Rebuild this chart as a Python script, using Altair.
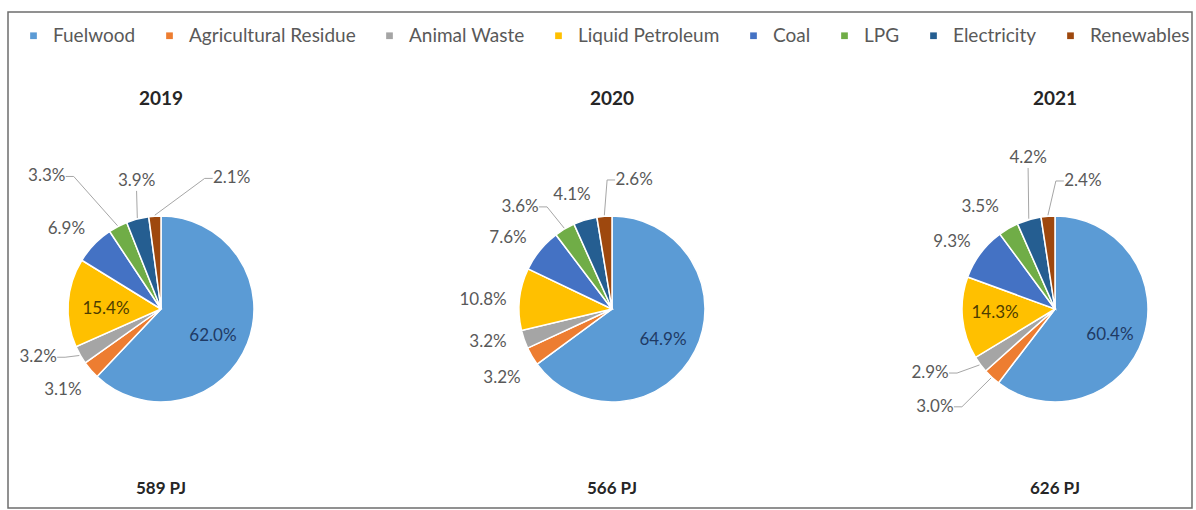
import math
import altair as alt
import pandas as pd

# ---------------- data ----------------
YEARS = ["2019", "2020", "2021"]
TOTALS_PJ = [589, 566, 626]
CATEGORIES = ["Fuelwood", "Agricultural Residue", "Animal Waste", "Liquid Petroleum",
              "Coal", "LPG", "Electricity", "Renewables"]
SHARE_2019 = [62.0, 3.1, 3.2, 15.4, 6.9, 3.3, 3.9, 2.1]
SHARE_2020 = [64.9, 3.2, 3.2, 10.8, 7.6, 3.6, 4.1, 2.6]
SHARE_2021 = [60.4, 3.0, 2.9, 14.3, 9.3, 3.5, 4.2, 2.4]

# ---------------- styling / layout ----------------
COLORS = ["#5B9BD5", "#ED7D31", "#A5A5A5", "#FFC000",
          "#4472C4", "#70AD47", "#255E91", "#9E480E"]
W, H = 1196, 510
CENTERS = [161, 612, 1055]
CY = 309
R = 93
TITLE_Y = 99
TOTAL_Y = 489
FONT = "Lato"
LABEL_GRAY = "#595959"
INSIDE_COLOR = {"Fuelwood": "#1F3A64", "Liquid Petroleum": "#4D3D00"}
HW = 19  # half width of a small label, for leader lines

# label placement per slice: (radius px, angular nudge deg, leader side)
LABEL_2019 = [(58.6, 5.8, ""), (127, 1.6, ""), (132, 8.2, "r"), (55, -3.6, ""),
              (123.6, -4.0, ""), (175, -13.2, "r"), (130.4, 3.8, "b"), (148.5, 32.2, "l")]
LABEL_2020 = [(59.7, 4.5, ""), (129.8, -1.5, ""), (128.3, 4.2, ""), (129.3, -2.1, ""),
              (125.9, -4.9, ""), (137.4, -11.4, "r"), (120.8, -2.6, ""), (130.9, 14.4, "l")]
LABEL_2021 = [(60.8, 6.6, ""), (154.9, 8.0, "r"), (140.4, 9.4, "r"), (60.1, 1.8, ""),
              (122.9, -3.9, ""), (126.6, -6.2, ""), (153.4, 6.1, "b"), (131, 16.6, "l")]

rows = []
for year, shares, labels in zip(YEARS, [SHARE_2019, SHARE_2020, SHARE_2021],
                                [LABEL_2019, LABEL_2020, LABEL_2021]):
    for i, (cat, v, (lr, ln, side)) in enumerate(zip(CATEGORIES, shares, labels)):
        inside = lr < R
        rows.append({"year": year, "category": cat, "order": i, "value": v,
                     "lr": lr, "ln": ln, "side": side,
                     "tcolor": INSIDE_COLOR.get(cat, LABEL_GRAY) if inside else LABEL_GRAY})
df = pd.DataFrame(rows)

cx_expr = " : ".join(f"datum.year === '{y}' ? {c}" for y, c in zip(YEARS[:-1], CENTERS[:-1])) \
          + f" : {CENTERS[-1]}"

color_enc = alt.Color(
    "category:N",
    scale=alt.Scale(domain=CATEGORIES, range=COLORS),
    legend=alt.Legend(
        orient="none", legendX=24, legendY=26, direction="horizontal",
        title=None, symbolType="square", symbolSize=45, symbolStrokeWidth=0,
        labelFontSize=19, labelFont=FONT, labelColor=LABEL_GRAY, labelLimit=400,
        columnPadding=24, labelOffset=10,
    ),
)

# one pie per year, each stacked by the library
pies = []
for year, cx in zip(YEARS, CENTERS):
    pies.append(
        alt.Chart(df)
        .transform_filter(f"datum.year === '{year}'")
        .mark_arc(outerRadius=R, stroke="white", strokeWidth=1.5)
        .encode(
            x=alt.value(cx),
            y=alt.value(CY),
            theta=alt.Theta("value:Q", stack=True),
            order=alt.Order("order:Q", sort="ascending"),
            color=color_enc,
        )
    )

base = (
    alt.Chart(df)
    .transform_joinaggregate(total="sum(value)", groupby=["year"])
    .transform_window(cum="sum(value)", groupby=["year"],
                      sort=[alt.SortField("order")], frame=[None, 0])
    .transform_calculate(
        f1="datum.cum / datum.total",
        f0="(datum.cum - datum.value) / datum.total",
        cx=cx_expr,
        label="format(datum.value, '.1f') + '%'",
    )
    .transform_calculate(mid="(datum.f0 + datum.f1) * PI")
    .transform_calculate(la="datum.mid + datum.ln * PI / 180")
    .transform_calculate(
        lx="datum.cx + datum.lr * sin(datum.la)",
        ly=f"{CY} - datum.lr * cos(datum.la)",
        ex=f"datum.cx + {R + 1} * sin(datum.mid)",
        ey=f"{CY} - {R + 1} * cos(datum.mid)",
    )
    .transform_calculate(
        p0x=f"datum.side === 'r' ? datum.lx + {HW} : datum.side === 'l' ? datum.lx - {HW} : datum.lx",
        p0y="datum.side === 'b' ? datum.ly + 10 : datum.ly",
    )
    .transform_calculate(
        p1x="datum.side === 'r' ? datum.p0x + 8 : datum.side === 'l' ? datum.p0x - 8 : datum.p0x",
        p1y="datum.p0y",
    )
)

labels = base.mark_text(font=FONT, fontSize=17, align="center", baseline="middle").encode(
    x=alt.X("lx:Q", scale=None),
    y=alt.Y("ly:Q", scale=None),
    text="label:N",
    fill=alt.Fill("tcolor:N", scale=None),
)

leaders = base.transform_filter("datum.side !== ''")
lead1 = leaders.mark_rule(color="#A6A6A6", strokeWidth=1).encode(
    x=alt.X("p0x:Q", scale=None), y=alt.Y("p0y:Q", scale=None), x2="p1x:Q", y2="p1y:Q")
lead2 = leaders.mark_rule(color="#A6A6A6", strokeWidth=1).encode(
    x=alt.X("p1x:Q", scale=None), y=alt.Y("p1y:Q", scale=None), x2="ex:Q", y2="ey:Q")

ydf = pd.DataFrame({"year": YEARS, "total": TOTALS_PJ})
ybase = alt.Chart(ydf).transform_calculate(cx=cx_expr, tot="datum.total + ' PJ'")
titles = ybase.mark_text(font=FONT, fontSize=19, fontWeight="bold", color="#262626").encode(
    x=alt.X("cx:Q", scale=None), y=alt.value(TITLE_Y), text="year:N")
totals = ybase.mark_text(font=FONT, fontSize=17, fontWeight="bold", color="#262626").encode(
    x=alt.X("cx:Q", scale=None), y=alt.value(TOTAL_Y), text="tot:N")

frame = alt.Chart(alt.Data(values=[{}])).mark_rect(
    filled=False, stroke="#6E6E6E", strokeWidth=1.5
).encode(x=alt.value(8), x2=alt.value(1192), y=alt.value(12), y2=alt.value(508))

chart = (
    alt.layer(frame, *pies, lead1, lead2, labels, titles, totals)
    .resolve_scale(theta="independent")
    .properties(width=W, height=H, padding=0, autosize=alt.AutoSizeParams(type="none"),
                background="white")
    .configure_view(stroke=None)
)

chart.save("out.html", embed_options={"renderer": "svg", "actions": False})
